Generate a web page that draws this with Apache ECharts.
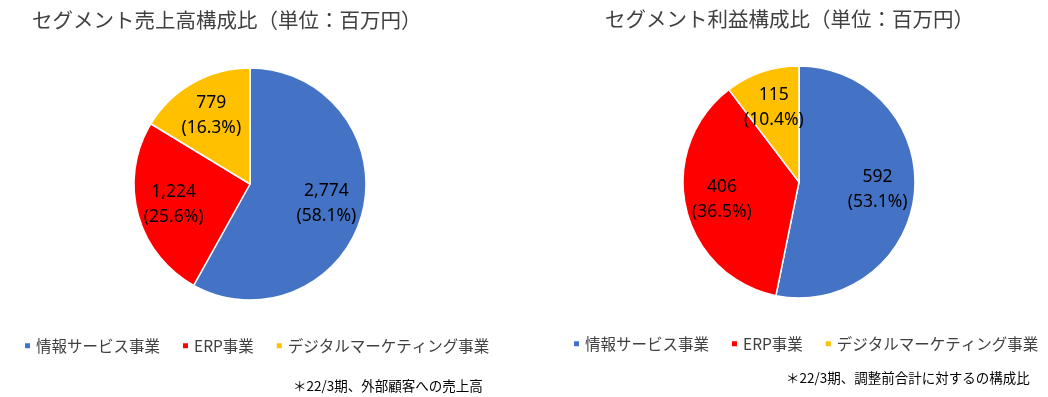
<!DOCTYPE html>
<html><head><meta charset="utf-8">
<script src="https://cdn.jsdelivr.net/npm/echarts@6/dist/echarts.min.js"></script>
<style>html,body{margin:0;padding:0;background:#fff}#c{width:1048px;height:397px}</style>
</head><body><div id="c"></div>
<script>
const categories = ['情報サービス事業', 'ERP事業', 'デジタルマーケティング事業'];
const salesValues = [2774, 1224, 779];
const salesPercents = ['58.1', '25.6', '16.3'];
const profitValues = [592, 406, 115];
const profitPercents = ['53.1', '36.5', '10.4'];
const titles = ['セグメント売上高構成比（単位：百万円）', 'セグメント利益構成比（単位：百万円）'];
const notes = ['＊22/3期、外部顧客への売上高', '＊22/3期、調整前合計に対するの構成比'];
const colors = ['#4472C4', '#FF0000', '#FFC000'];

const fmt = v => v.toLocaleString('en-US');
const font = '"Noto Sans CJK JP", "Noto Sans", sans-serif';

function pieData(values) {
  return categories.map((n, i) => ({ name: n, value: values[i], itemStyle: { color: colors[i] } }));
}
function mainPie(values, cx, cy) {
  return {
    type: 'pie', center: [cx, cy], radius: 116, startAngle: 90, clockwise: true,
    data: pieData(values), label: { show: false }, labelLine: { show: false },
    itemStyle: { borderColor: '#fff', borderWidth: 1.5 }, animation: false, emphasis: { disabled: true }
  };
}
function labelPie(values, pcts, cx, cy) {
  return {
    type: 'pie', center: [cx, cy], radius: [36, 116], startAngle: 90, clockwise: true,
    silent: true, legendHoverLink: false, animation: false,
    data: categories.map((n, i) => ({ name: n, value: values[i], pct: pcts[i] })),
    itemStyle: { color: 'rgba(0,0,0,0)' },
    label: {
      show: true, position: 'inside', color: '#000', fontSize: 17.5, lineHeight: 25,
      fontFamily: '"Noto Sans", sans-serif',
      formatter: p => fmt(p.value) + '\n(' + p.data.pct + '%)'
    },
    labelLine: { show: false }, emphasis: { disabled: true }
  };
}
function legend(left, top) {
  return {
    left: left, top: top, padding: 0, width: 1048 - left, itemWidth: 7, itemHeight: 7, itemGap: 21, icon: 'rect',
    selectedMode: false,
    textStyle: { fontSize: 15.5, color: '#404040', fontFamily: font },
    data: categories.map((n, i) => ({ name: n, itemStyle: { color: colors[i] } }))
  };
}
function title(text, left, top, size, color) {
  return { text: text, left: left, top: top, padding: 0,
    textStyle: { fontSize: size, fontWeight: 'normal', color: color, fontFamily: font } };
}

const chart = echarts.init(document.getElementById('c'));
chart.setOption({
  backgroundColor: '#fff',
  title: [
    title(titles[0], 32, 10, 20.5, '#404040'),
    title(titles[1], 605, 9, 20.5, '#404040'),
    title(notes[0], 293, 379, 13.5, '#000'),
    title(notes[1], 786, 371, 13.5, '#000')
  ],
  legend: [legend(23, 338), legend(572, 336)],
  series: [
    mainPie(salesValues, 250, 184),
    mainPie(profitValues, 799, 182),
    labelPie(salesValues, salesPercents, 250, 184),
    labelPie(profitValues, profitPercents, 799, 182)
  ]
});
</script></body></html>
